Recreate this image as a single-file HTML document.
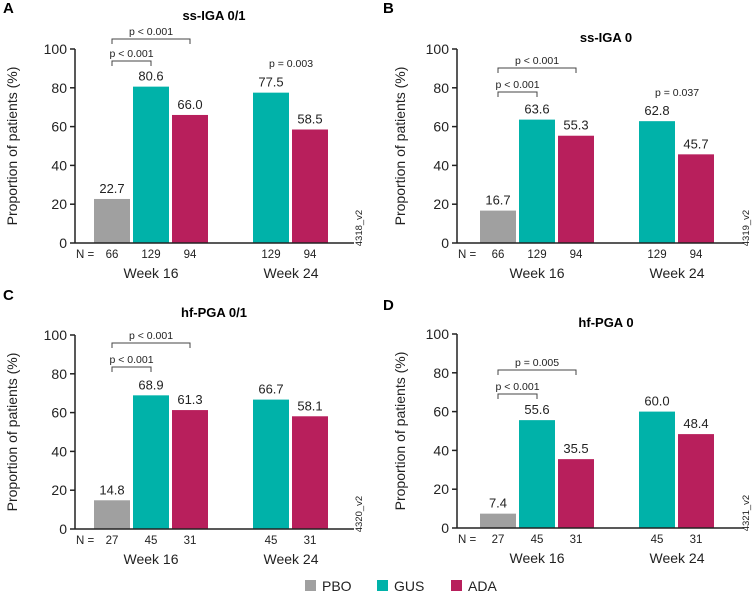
<!DOCTYPE html>
<html><head><meta charset="utf-8"><style>
body{margin:0;background:#fff;}
svg{display:block;font-family:"Liberation Sans",Arial,sans-serif;}
</style></head><body>
<svg id="chart" width="755" height="605" viewBox="0 0 755 605"></svg>
<script>
const panelLetters = ["A","B","C","D"];
const panelTitles = ["ss-IGA 0/1","ss-IGA 0","hf-PGA 0/1","hf-PGA 0"];
const codes = ["4318_v2","4319_v2","4320_v2","4321_v2"];
const wk16Pbo = [22.7,16.7,14.8,7.4];
const wk16Gus = [80.6,63.6,68.9,55.6];
const wk16Ada = [66.0,55.3,61.3,35.5];
const wk24Gus = [77.5,62.8,66.7,60.0];
const wk24Ada = [58.5,45.7,58.1,48.4];
const nPbo = [66,66,27,27];
const nGus = [129,129,45,45];
const nAda = [94,94,31,31];
const pGus16 = ["p < 0.001","p < 0.001","p < 0.001","p < 0.001"];
const pAda16 = ["p < 0.001","p < 0.001","p < 0.001","p = 0.005"];
const p24 = ["p = 0.003","p = 0.037","",""];
const yTicks = [0,20,40,60,80,100];
const groups = ["Week 16","Week 24"];
const legendNames = ["PBO","GUS","ADA"];
const COL = {PBO:"#a0a0a0",GUS:"#00b2a9",ADA:"#b81f5c"};

const lay = [
 {ax:75, top:49, title:-33, b1:12, b2:-10, p24:14, letterY:13},
 {ax:457,top:49, title:-11, b1:43, b2:19, p24:43, letterY:13},
 {ax:75, top:335,title:-22, b1:32, b2:8, p24:0, letterY:300},
 {ax:457,top:334,title:-11, b1:60, b2:36, p24:0, letterY:310}
];
const svg = document.getElementById('chart');
const NS="http://www.w3.org/2000/svg";
function mk(tag, attrs, parent, text){
  const e=document.createElementNS(NS,tag);
  for(const k in attrs) e.setAttribute(k,attrs[k]);
  if(text!==undefined) e.textContent=text;
  (parent||svg).appendChild(e); return e;
}
const H=194;
for(let i=0;i<4;i++){
  const L=lay[i];
  const right=i%2===1;
  const g=mk('g',{});
  
  
  const y0=L.top+H;
  const y=v=>y0-v/100*H;
  const bx=L.ax+19+(right?4:0);
  const x16=[bx,bx+39,bx+78], x24=[bx+159,bx+198];
  const bw=36;
  let t=mk('text',{x:right?383:3,y:L.letterY,'font-size':15,'font-weight':'bold'},g,panelLetters[i]);
  
  
  t=mk('text',{x:L.ax+139+(right?10:0),y:L.top+L.title+4,'font-size':13,'font-weight':'bold','text-anchor':'middle'},g,panelTitles[i]);
  
  
  const yc=L.top+97, yx=L.ax-58+(right?6:0);
  t=mk('text',{x:yx,y:yc,'font-size':14,'text-anchor':'middle',transform:`rotate(-90 ${yx} ${yc})`,fill:'#222'},g,'Proportion of patients (%)');
  
  
  let ln=mk('line',{x1:L.ax,y1:L.top,x2:L.ax,y2:y0,stroke:'#222','stroke-width':1.5},g);
  
  
  yTicks.forEach(v=>{
    mk('line',{x1:L.ax-5,x2:L.ax,y1:y(v),y2:y(v),stroke:'#222','stroke-width':1.5},g);
    const tt=mk('text',{x:L.ax-8,y:y(v)+5,'font-size':14,'text-anchor':'end',fill:'#222'},g,v);
    
    
  });
  const bars=[[x16[0],wk16Pbo[i],'PBO',nPbo[i]],[x16[1],wk16Gus[i],'GUS',nGus[i]],[x16[2],wk16Ada[i],'ADA',nAda[i]],[x24[0],wk24Gus[i],'GUS',nGus[i]],[x24[1],wk24Ada[i],'ADA',nAda[i]]];
  bars.forEach((b,k)=>{
    const r=mk('rect',{x:b[0],y:y(b[1]),width:bw,height:y0-y(b[1]),fill:COL[b[2]]},g);
    
    
    const vl=mk('text',{x:b[0]+bw/2,y:y(b[1])-6,'font-size':13,'text-anchor':'middle',fill:'#222'},g,b[1].toFixed(1));
    
    
    const nl=mk('text',{x:b[0]+bw/2,y:y0+15,'font-size':11.5,'text-anchor':'middle',fill:'#222'},g,b[3]);
    
    
  });
  ln=mk('line',{x1:L.ax,y1:y0,x2:L.ax+279+(right?8:0),y2:y0,stroke:'#222','stroke-width':1.5},g);
  
  
  t=mk('text',{x:L.ax+1,y:y0+15,'font-size':11.5,fill:'#222'},g,'N =');
  
  
  [x16[1]+bw/2, x24[0]+bw+2].forEach((cx,k)=>{
    const w=mk('text',{x:cx,y:y0+35,'font-size':14,'text-anchor':'middle',fill:'#222'},g,groups[k]);
    
    
  });
  const c0=x16[0]+bw/2;
  [[x16[1]+bw/2,L.b1,pGus16[i]],[x16[2]+bw/2,L.b2,pAda16[i]]].forEach(br=>{
    const by=L.top+br[1];
    const p=mk('path',{d:`M${c0},${by+5}V${by}H${br[0]}V${by+5}`,fill:'none',stroke:'#444','stroke-width':1},g);
    
    
    const pl=mk('text',{x:(c0+br[0])/2,y:by-4,'font-size':10.5,'text-anchor':'middle',fill:'#222'},g,br[2]);
    
    
  });
  if(p24[i]){
    const pl=mk('text',{x:x24[0]+bw+2,y:L.top+L.p24+4,'font-size':10.5,'text-anchor':'middle',fill:'#222'},g,p24[i]);
    
    
  }
  const cx=right?749:362, cy=y0-15;
  t=mk('text',{x:cx,y:cy,'font-size':9.5,'text-anchor':'middle',transform:`rotate(-90 ${cx} ${cy})`,fill:'#222'},g,codes[i]);
  
  
}
const lx=[305,377,451];
legendNames.forEach((n,k)=>{
  const g=mk('g',{});
  
  
  mk('rect',{x:lx[k],y:580,width:11,height:11,fill:COL[n]},g);
  mk('text',{x:lx[k]+17,y:591,'font-size':14,fill:'#222'},g,n);
});
</script>
</body></html>
